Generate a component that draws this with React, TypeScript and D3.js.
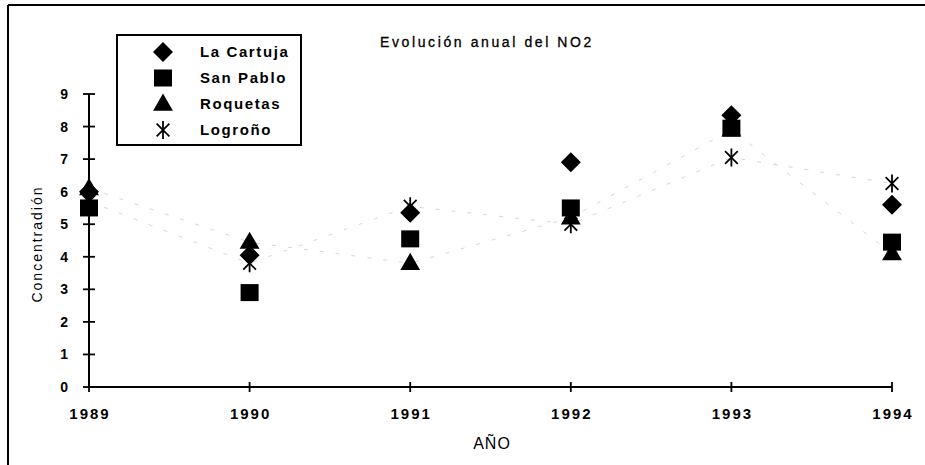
import React from "react";
import * as d3 from "d3";

const years = [1989, 1990, 1991, 1992, 1993, 1994];
const yTicks = [0, 1, 2, 3, 4, 5, 6, 7, 8, 9];
const seriesNames = ["La Cartuja", "San Pablo", "Roquetas", "Logroño"];
const laCartuja = [6.0, 4.05, 5.35, 6.9, 8.35, 5.6];
const sanPablo = [5.5, 2.9, 4.55, 5.5, 7.95, 4.45];
const roquetas = [6.1, 4.45, 3.8, 5.2, 7.9, 4.1];
const logrono = [5.7, 3.8, 5.55, 5.0, 7.05, 6.25];
const title = "Evolución anual del NO2";
const yTitle = "Concentradión";
const xTitle = "AÑO";

const W = 925;
const H = 465;
const FONT = "'Liberation Sans', Arial, sans-serif";

function Marker({ kind, x, y }: { kind: number; x: number; y: number }) {
  if (kind === 0) {
    const r = 10;
    return <path d={`M${x},${y - r}L${x + r},${y}L${x},${y + r}L${x - r},${y}Z`} fill="#000" />;
  }
  if (kind === 1) {
    return <rect x={x - 9} y={y - 8.5} width={18} height={17} fill="#000" />;
  }
  if (kind === 2) {
    const sym = d3.symbol().type(d3.symbolTriangle).size(170)();
    return <path d={sym || ""} transform={`translate(${x},${y + 1})`} fill="#000" />;
  }
  const r = 9;
  const dx = r * Math.cos(Math.PI / 4);
  return (
    <g stroke="#000" strokeWidth={1.8}>
      <line x1={x} y1={y - r} x2={x} y2={y + r} />
      <line x1={x - dx} y1={y - dx} x2={x + dx} y2={y + dx} />
      <line x1={x - dx} y1={y + dx} x2={x + dx} y2={y - dx} />
    </g>
  );
}

export default function App() {
  const x = d3.scaleLinear().domain([1989, 1994]).range([89, 892]);
  const y = d3.scaleLinear().domain([0, 9]).range([387, 94]);
  const allSeries = [laCartuja, sanPablo, roquetas, logrono];
  const line = d3
    .line<number>()
    .x((_, i) => x(years[i]))
    .y((d) => y(d));

  return (
    <svg
      width={W}
      height={H}
      style={{ position: "absolute", left: 0, top: 0, background: "#fff" }}
      fontFamily={FONT}
    >
      <rect x={0} y={0} width={W} height={H} fill="#fff" />
      {/* frame */}
      <line x1={8} y1={5} x2={W} y2={5} stroke="#000" strokeWidth={2} />
      <line x1={8} y1={5} x2={8} y2={H} stroke="#000" strokeWidth={2} />

      {/* faint lines */}
      <path d={line(roquetas) || ""} fill="none" stroke="#d6d6d6" strokeWidth={1} strokeDasharray="4 12" />
      <path d={line(logrono) || ""} fill="none" stroke="#d6d6d6" strokeWidth={1} strokeDasharray="4 12" />

      {/* title */}
      <text x={487} y={47} textAnchor="middle" fontSize={14} letterSpacing={2.6} fill="#000" stroke="#000" strokeWidth={0.3}>
        {title}
      </text>

      {/* axes */}
      <line x1={x(1989)} y1={y(0)} x2={x(1989)} y2={y(9)} stroke="#000" strokeWidth={2} />
      <line x1={x(1989)} y1={y(0)} x2={x(1994)} y2={y(0)} stroke="#000" strokeWidth={2} />
      {yTicks.map((t) => (
        <g key={t}>
          <line x1={x(1989) - 6} x2={x(1989) + 6} y1={y(t)} y2={y(t)} stroke="#000" strokeWidth={1.8} />
          <text x={68} y={y(t) + 5} textAnchor="end" fontSize={14} fontWeight="bold" fill="#000">
            {t}
          </text>
        </g>
      ))}
      {years.map((yr) => (
        <g key={yr}>
          <line x1={x(yr)} x2={x(yr)} y1={y(0) - 5} y2={y(0) + 5} stroke="#000" strokeWidth={1.8} />
          <text
            x={x(yr) + 1}
            y={419}
            textAnchor="middle"
            fontSize={15}
            fontWeight="bold"
            letterSpacing={2}
            fill="#000"
          >
            {yr}
          </text>
        </g>
      ))}
      <text
        transform={`translate(42,${244}) rotate(-90)`}
        textAnchor="middle"
        fontSize={14}
        letterSpacing={2}
        fill="#000"
      >
        {yTitle}
      </text>
      <text x={492} y={449} textAnchor="middle" fontSize={16} letterSpacing={1} fill="#000">
        {xTitle}
      </text>

      {/* markers */}
      {allSeries.map((s, si) =>
        s.map((v, i) => <Marker key={`${si}-${i}`} kind={si} x={x(years[i])} y={y(v)} />)
      )}

      {/* legend */}
      <rect x={117} y={35} width={184} height={110} fill="#fff" stroke="#000" strokeWidth={2} />
      {seriesNames.map((n, i) => {
        const ly = 52 + i * 26;
        return (
          <g key={n}>
            <Marker kind={i} x={163} y={ly} />
            <text x={200} y={ly + 5} fontSize={15} fontWeight="bold" letterSpacing={1.6} fill="#000">
              {n}
            </text>
          </g>
        );
      })}
    </svg>
  );
}
